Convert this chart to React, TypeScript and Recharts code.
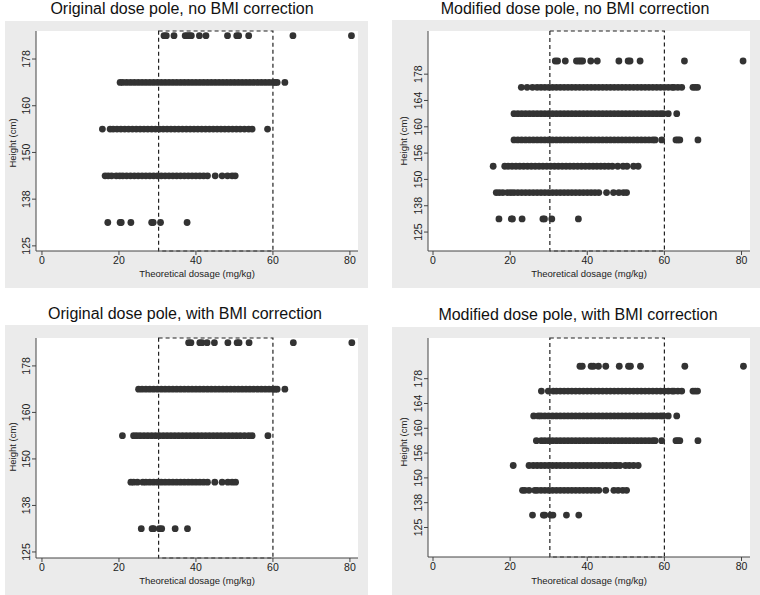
import { ScatterChart, Scatter, XAxis, YAxis, CartesianGrid, ReferenceArea } from "recharts"

const xTicks = [0, 20, 40, 60, 80]
const originalBands = ["125", "138", "150", "160", "178"]
const modifiedBands = ["125", "138", "150", "156", "160", "164", "178"]
const targetLow = 30.3
const targetHigh = 60

// original dose pole, no BMI correction (rows from shortest to tallest)
const onbRow0 = [17.1, 20.3, 20.6, 23.1, 28.5, 28.9, 30.8, 37.7]
const onbRow1 = [16.4, 17.2, 18.1, 19.3, 20.2, 21, 22, 23, 24, 25, 26, 27, 28, 29, 30, 31, 32, 33, 34, 35, 36, 37, 38, 39, 40, 41, 42, 43, 45, 46.8, 48.2, 49.4, 50.2]
const onbRow2 = [15.7, 17.7, 18.5, 19.5, 20.5, 21.5, 22.5, 23.5, 24.5, 25.5, 26.5, 27.5, 28.5, 29.5, 30.5, 31.5, 32.5, 33.5, 34.5, 35.5, 36.5, 37.5, 38.5, 39.5, 40.5, 41.5, 42.5, 43.5, 44.5, 45.5, 46.5, 47.5, 48.5, 49.5, 50.5, 51.5, 52.6, 53.7, 54.6, 58.6]
const onbRow3 = [20.3, 21, 22, 23, 24, 25, 26, 27, 28, 29, 30, 31, 32, 33, 34, 35, 36, 37, 38, 39, 40, 41, 42, 43, 44, 45, 46, 47, 48, 49, 50, 51, 52, 53, 54, 55, 56, 57, 58, 59, 60, 60.6, 61.1, 63.1]
const onbRow4 = [31.7, 32.3, 34.3, 37.2, 37.8, 38.3, 38.8, 40.9, 42.6, 48.2, 50.6, 51.1, 53.7, 65.2, 80.4]

// modified dose pole, no BMI correction
const mnbRow2 = [15.6, 18.6, 19.5, 20.5, 21.5, 22.5, 23.5, 24.5, 25.5, 26.5, 27.5, 28.5, 29.5, 30.5, 31.5, 32.5, 33.5, 34.5, 35.5, 36.5, 37.5, 38.5, 39.5, 40.5, 41.5, 42.5, 43.5, 44.5, 45.5, 46.5, 47.9, 49.3, 50.3, 52, 53.2]
const mnbRow3 = [21, 22, 23, 24, 25, 26, 27, 28, 29, 30, 31, 32, 33, 34, 35, 36, 37, 38, 39, 40, 41, 42, 43, 44, 45, 46, 47, 48, 49, 50, 51, 52, 53, 54, 55, 56, 57, 57.6, 59.3, 63, 63.5, 64, 68.7]
const mnbRow4 = [21, 22, 23, 24, 25, 26, 27, 28, 29, 30, 31, 32, 33, 34, 35, 36, 37, 38, 39, 40, 41, 42, 43, 44, 45, 46, 47, 48, 49, 50, 51, 52, 53, 54, 55, 56, 57, 58, 59, 59.7, 61, 63.2]
const mnbRow5 = [22.9, 24.4, 25.8, 27, 28, 29, 30, 31, 32, 33, 34, 35, 36, 37, 38, 39, 40, 41, 42, 43, 44, 45, 46, 47, 48, 49, 50, 51, 52, 53, 54, 55, 56, 57, 58, 59, 60, 61, 62, 62.5, 63.5, 64.5, 67.4, 68, 68.6]

// original dose pole, with BMI correction
const owbRow0 = [25.8, 28.6, 29, 30.5, 31.1, 34.6, 37.8]
const owbRow1 = [23.1, 23.8, 24.8, 26.2, 27, 28, 29, 30, 31, 32, 33, 34, 35, 36, 37, 38, 39, 40, 41, 42, 43, 44.9, 46.8, 48.3, 49.4, 50.3]
const owbRow2 = [20.9, 23.8, 24.6, 25.5, 26.5, 27.5, 28.5, 29.5, 30.5, 31.5, 32.5, 33.5, 34.5, 35.5, 36.5, 37.5, 38.5, 39.5, 40.5, 41.5, 42.5, 43.5, 44.5, 45.5, 46.5, 47.5, 48.5, 49.5, 50.5, 51.5, 52.6, 53.7, 54.6, 58.7]
const owbRow3 = [25.1, 26, 27, 28, 29, 30, 31, 32, 33, 34, 35, 36, 37, 38, 39, 40, 41, 42, 43, 44, 45, 46, 47, 48, 49, 50, 51, 52, 53, 54, 55, 56, 57, 58, 59, 60, 60.6, 61.1, 63.1]
const owbRow4 = [38.1, 38.7, 41, 41.6, 42.9, 44.8, 48.3, 50.7, 51.2, 53.8, 65.3, 80.5]

// modified dose pole, with BMI correction
const mwbRow1 = [23.2, 23.8, 24.9, 26.4, 27, 28, 29, 30, 31, 32, 33, 34, 35, 36, 37, 38, 39, 40, 41, 42, 43, 44.8, 46.9, 48, 49.2, 50.2]
const mwbRow2 = [20.8, 24.9, 26, 27, 28, 29, 30, 31, 32, 33, 34, 35, 36, 37, 38, 39, 40, 41, 42, 43, 44, 45, 46, 47, 47.6, 48.5, 49.9, 50.9, 52, 53.2]
const mwbRow3 = [26.8, 28.1, 29, 30, 31, 32, 33, 34, 35, 36, 37, 38, 39, 40, 41, 42, 43, 44, 45, 46, 47, 48, 49, 50, 51, 52, 53, 54, 55, 56, 57, 57.6, 59.3, 63, 63.5, 64, 68.7]
const mwbRow4 = [26.1, 27.3, 28, 29, 30, 31, 32, 33, 34, 35, 36, 37, 38, 39, 40, 41, 42, 43, 44, 45, 46, 47, 48, 49, 50, 51, 52, 53, 54, 55, 56, 57, 58, 59, 59.7, 61, 63.2]
const mwbRow5 = [28.1, 29.9, 31.2, 32, 33, 34, 35, 36, 37, 38, 39, 40, 41, 42, 43, 44, 45, 46, 47, 48, 49, 50, 51, 52, 53, 54, 55, 56, 57, 58, 59, 60, 61, 62, 62.5, 63.5, 64.5, 67.4, 68, 68.6]

const panels = [
  {
    title: "Original dose pole, no BMI correction", titleX: 182, titleY: 14,
    left: 5, top: 21, width: 363, height: 267, mt: 10, yw: 31, xh: 37,
    labelX: 16, labelY: 143,
    bands: originalBands, rows: [onbRow0, onbRow1, onbRow2, onbRow3, onbRow4],
    xDomain: [-1.55, 82.1], yDomain: [-0.11, 4.6],
  },
  {
    title: "Modified dose pole, no BMI correction", titleX: 575, titleY: 14,
    left: 392, top: 20, width: 368, height: 268, mt: 11, yw: 36, xh: 37,
    labelX: 407, labelY: 141,
    bands: modifiedBands, rows: [onbRow0, onbRow1, mnbRow2, mnbRow3, mnbRow4, mnbRow5, onbRow4],
    xDomain: [-1.3, 82.2], yDomain: [-0.72, 7.64],
  },
  {
    title: "Original dose pole, with BMI correction", titleX: 185, titleY: 319,
    left: 5, top: 325, width: 363, height: 270, mt: 13, yw: 31, xh: 37,
    labelX: 16, labelY: 447,
    bands: originalBands, rows: [owbRow0, owbRow1, owbRow2, owbRow3, owbRow4],
    xDomain: [-1.55, 82.1], yDomain: [-0.13, 4.6],
  },
  {
    title: "Modified dose pole, with BMI correction", titleX: 578, titleY: 320,
    left: 392, top: 327, width: 368, height: 268, mt: 11, yw: 36, xh: 38,
    labelX: 407, labelY: 442,
    bands: modifiedBands, rows: [owbRow0, mwbRow1, mwbRow2, mwbRow3, mwbRow4, mwbRow5, owbRow4],
    xDomain: [-1.3, 82.2], yDomain: [-1.19, 7.64],
  },
]

const dot = (props: any) => <circle cx={props.cx} cy={props.cy} r={3.4} fill="#333" />

function YTick(props: any) {
  const { x, y, payload, bands } = props
  return (
    <text x={x} y={y} transform={`rotate(-90, ${x}, ${y})`} textAnchor="middle" fontSize={10.5} fill="#222">
      {bands[payload.value]}
    </text>
  )
}

function Panel({ p }: { p: any }) {
  const data = p.rows.flatMap((row: number[], i: number) => row.map((x) => ({ x, y: i + 0.5 })))

  return (
    <div style={{ position: "absolute", left: p.left, top: p.top, width: p.width, height: p.height, background: "#ebebeb" }}>
      <ScatterChart width={p.width} height={p.height} margin={{ top: p.mt, right: 10, left: 0, bottom: 0 }}>
        <CartesianGrid horizontal={false} vertical={false} fill="#fff" stroke="none" />
        <XAxis
          type="number" dataKey="x" domain={p.xDomain} ticks={xTicks} interval={0} allowDataOverflow
          height={p.xh} tickSize={4} stroke="#444" tick={{ fontSize: 10.5, fill: "#222" }}
          label={{ value: "Theoretical dosage (mg/kg)", position: "insideBottom", offset: 11, fontSize: 9.5, fill: "#222" }}
        />
        <YAxis
          type="number" dataKey="y" domain={p.yDomain} ticks={p.bands.map((_: string, i: number) => i)} interval={0}
          allowDataOverflow width={p.yw} tickSize={4} stroke="#444" tick={<YTick bands={p.bands} />}
        />
        <Scatter data={data} isAnimationActive={false} shape={dot} />
        <ReferenceArea x1={targetLow} x2={targetHigh} fill="none" stroke="#222" strokeWidth={1.2} strokeDasharray="4 3" />
      </ScatterChart>
    </div>
  )
}

export default function App() {
  return (
    <div style={{ position: "absolute", left: 0, top: 0, width: 760, height: 595, background: "#fff", fontFamily: "'Liberation Sans', Arial, sans-serif" }}>
      {panels.map((p) => <Panel key={p.title} p={p} />)}
      <svg width={760} height={595} style={{ position: "absolute", left: 0, top: 0, pointerEvents: "none" }}>
        {panels.map((p) => (
          <g key={p.title}>
            <text x={p.titleX} y={p.titleY} textAnchor="middle" fontSize={16} fill="#111">{p.title}</text>
            <text x={p.labelX} y={p.labelY} transform={`rotate(-90, ${p.labelX}, ${p.labelY})`} textAnchor="middle" fontSize={9.5} fill="#222">
              Height (cm)
            </text>
          </g>
        ))}
      </svg>
    </div>
  )
}
